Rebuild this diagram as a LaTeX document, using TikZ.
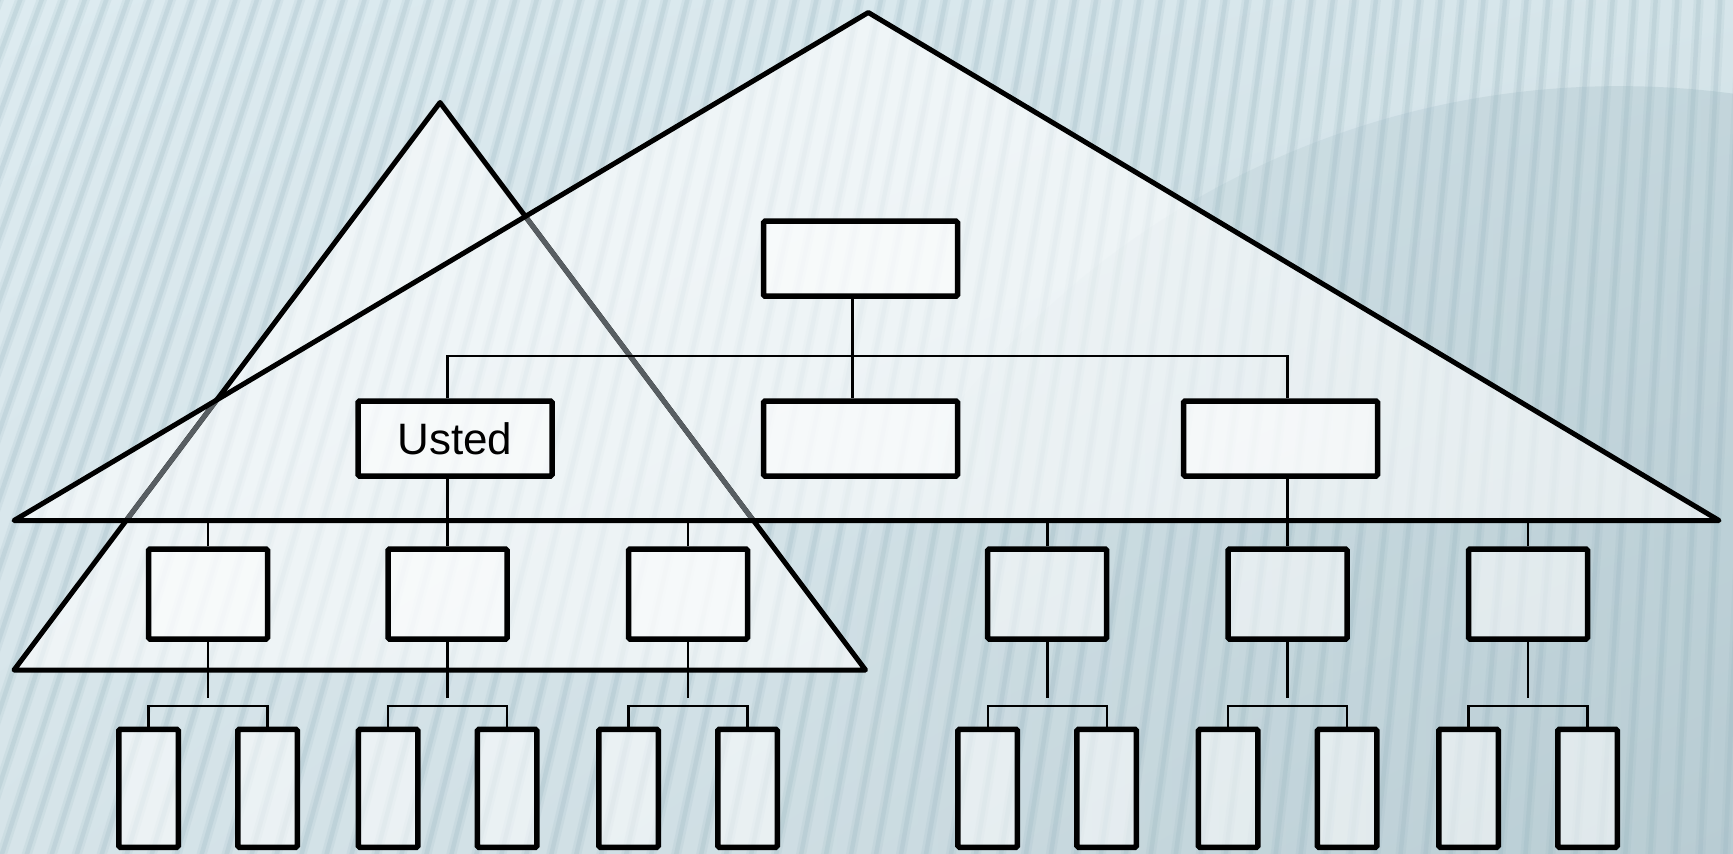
\documentclass[tikz,border=0pt]{standalone}
\usepackage{fontspec}
\setmainfont{Liberation Sans}
\usetikzlibrary{shadings,fadings}
\definecolor{bgUL}{RGB}{221,235,240}
\definecolor{bgUR}{RGB}{214,229,234}
\definecolor{bgLL}{RGB}{214,228,233}
\definecolor{bgLR}{RGB}{198,215,221}
\definecolor{stripec}{RGB}{150,180,190}
\definecolor{shadec}{RGB}{140,170,180}
\definecolor{hiddenline}{RGB}{88,94,98}
\tikzfading[name=fadeR, left color=transparent!100, middle color=transparent!0, right color=transparent!0]
\begin{document}
\begin{tikzpicture}[x=1pt,y=-1pt,
  box/.style={draw=black, line width=5.5pt, fill=white, fill opacity=0.55, text opacity=1,
    rounded corners=1.5pt, minimum width=194pt, minimum height=75pt, inner sep=0pt},
  midbox/.style={box, minimum width=119pt, minimum height=90pt},
  leafbox/.style={box, minimum width=59.5pt, minimum height=118pt},
  conn/.style={line width=2.8pt, line join=miter},
  thinconn/.style={line width=2.3pt, line join=miter},
  tri/.style={line width=5pt, line join=round},
  stripewide/.style={line width=10pt, draw=stripec, opacity=0.14},
  stripe/.style={line width=4.5pt, draw=stripec, opacity=0.22}]
% background
\useasboundingbox (0,0) rectangle (1733,854);
\shade[upper left=bgUL, upper right=bgUR, lower left=bgLL, lower right=bgLR] (0,0) rectangle (1733,854);
\fill[shadec, opacity=0.42, path fading=fadeR] (1620,936) circle (850);
\foreach \i in {-14,...,72}{
  \pgfmathsetmacro\xb{\i*25}
  \pgfmathsetmacro\xt{\xb+280-0.14*\xb}
  \draw[stripewide] (\xt,-5) -- (\xb,860);
  \draw[stripe] (\xt,-5) -- (\xb,860);
}
% triangles
\coordinate (BA) at (868.3,12.5);
\coordinate (BL) at (14,520.5);
\coordinate (BR) at (1719,520.5);
\coordinate (SA) at (440,102.5);
\coordinate (SL) at (14,670);
\coordinate (SR) at (865.5,670);
\fill[white, fill opacity=0.6] (BA)--(BL)--(BR)--cycle (SA)--(SL)--(SR)--cycle;
\draw[tri] (SA)--(SL)--(SR)--cycle;
\begin{scope}
  \clip (BA)--(BL)--(BR)--cycle;
  \draw[tri, draw=hiddenline] (SA)--(SL)--(SR)--cycle;
\end{scope}
\draw[tri] (BA)--(BL)--(BR)--cycle;
% boxes
\node[box] (top) at (860.5,258.7) {};
\node[box] (usted) at (455,438.5) {\fontsize{44}{50}\selectfont Usted};
\node[box] (mid) at (860.5,438.5) {};
\node[box] (right) at (1280.5,438.5) {};
\foreach \n/\x in {a/208, b/447.6, c/688, d/1047.2, e/1287.6, f/1528}{
  \node[midbox] (m\n) at (\x,594) {};
  \node[leafbox] (l\n1) at (\x-59.5,788.3) {};
  \node[leafbox] (l\n2) at (\x+59.5,788.3) {};
}
% connectors
\coordinate (trunk) at (852.7,356);
\coordinate (bar3) at (0,520.5);
\coordinate (y4a) at (0,698.3);
\coordinate (y4b) at (0,705.7);
\draw[conn] (top.south -| trunk) -- (mid.north -| trunk);
\draw[conn] (usted.north -| mb.center) -- (mb.center |- trunk) -- (me.center |- trunk) -- (right.north -| me.center);
\draw[conn] (usted.south -| mb.center) -- (mb.north);
\draw[conn] (right.south -| me.center) -- (me.north);
\draw[conn] (ma.north) -- (ma.center |- bar3) -- (mf.center |- bar3) -- (mf.north);
\draw[conn] (mc.north) -- (mc.center |- bar3);
\draw[conn] (md.north) -- (md.center |- bar3);
\foreach \n in {a,b,c,d,e,f}{
  \draw[conn] (m\n.south) -- (m\n.center |- y4a);
  \draw[thinconn] (l\n1.north) -- (l\n1.center |- y4b) -- (l\n2.center |- y4b) -- (l\n2.north);
}
\end{tikzpicture}
\end{document}
